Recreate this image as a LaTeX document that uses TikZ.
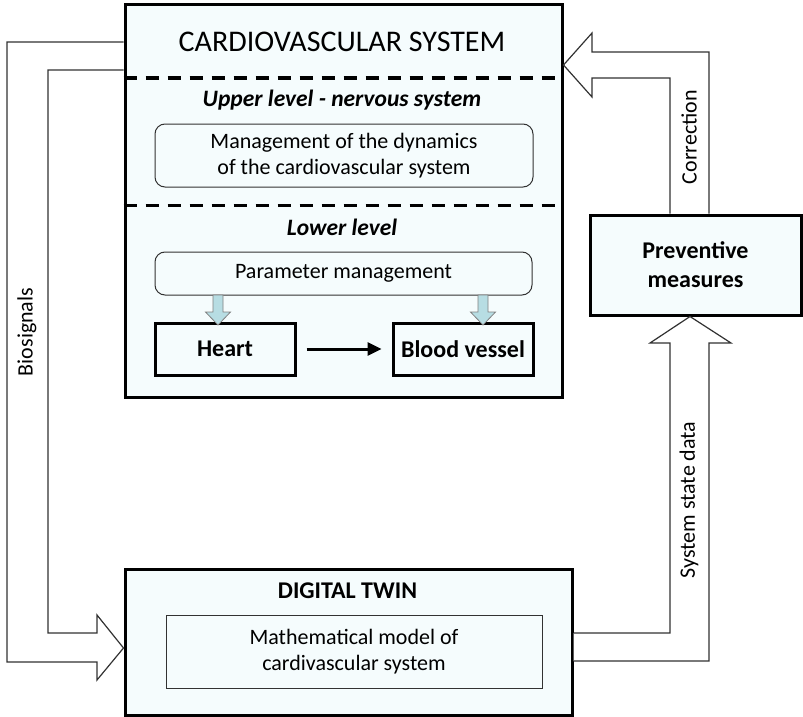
\documentclass[tikz,border=0pt]{standalone}
\usepackage{fontspec}
\setmainfont{Carlito}
\usetikzlibrary{arrows.meta}

\definecolor{boxfill}{RGB}{245,252,253}
\definecolor{tipfill}{RGB}{183,221,227}
\definecolor{linegray}{RGB}{50,50,50}

\newcommand\txtfont{\fontsize{22}{26}\selectfont}
\newcommand\lblfont{\fontsize{24}{29}\selectfont\bfseries}
\newcommand\lvlfont{\fontsize{23.5}{28}\selectfont\bfseries\itshape}
\newcommand\ttlfont{\fontsize{30}{34}\selectfont}

\begin{document}
\begin{tikzpicture}[x=1pt,y=-1pt,
  bigbox/.style={draw, line width=3pt, fill=boxfill, inner sep=0pt},
  partbox/.style={draw, line width=3pt, inner sep=0pt, align=center, font=\lblfont},
  roundbox/.style={draw=linegray, line width=1pt, rounded corners=10pt, inner sep=0pt, align=center, font=\txtfont},
  plainbox/.style={draw=linegray, line width=1pt, inner sep=0pt, align=center, font=\txtfont},
  divider/.style={line width=3pt, dash pattern=on 13pt off 9pt},
  hollow/.style={draw=linegray, line width=1.2pt, fill=white, line join=miter},
  tinyarrow/.style={draw=gray, line width=0.8pt, fill=tipfill},
  vlabel/.style={rotate=90, inner sep=0pt, font=\txtfont}]
\useasboundingbox (0,0) rectangle (803,717);

% main blocks
\node[bigbox, minimum width=437pt, minimum height=392pt] (cvs) at (343.5,201) {};
\node[bigbox, partbox, minimum width=211pt, minimum height=100pt] (prev) at (695.5,265) {Preventive\\measures};
\node[bigbox, minimum width=447pt, minimum height=146pt] (dt) at (348.5,642) {};

% cardiovascular system
\node[font=\ttlfont, inner sep=0pt, anchor=base] (cvstitle) at (342,52) {CARDIOVASCULAR SYSTEM};
\draw[divider] (cvs.west |- 0,78) -- (556,78);
\node[font=\lvlfont, inner sep=0pt, anchor=base] (upper) at (342,106) {Upper level - nervous system};
\node[roundbox, fill=boxfill, minimum width=378pt, minimum height=63pt] (mgmt) at (344,155.5) {Management of the dynamics\\of the cardiovascular system};
\draw[divider] (cvs.west |- 0,205) -- (556,205);
\node[font=\lvlfont, inner sep=0pt, anchor=base] (lower) at (342,235) {Lower level};
\node[roundbox, fill=boxfill, minimum width=377pt, minimum height=43pt] (param) at (343.5,273.5) {Parameter management};
\node[partbox, minimum width=140pt, minimum height=52pt] (heart) at (225,349) {Heart};
\node[partbox, minimum width=140pt, minimum height=52pt] (vessel) at (463,349) {Blood vessel};
\foreach \x in {218,483}
  \draw[tinyarrow] ({\x-5},295) -- ({\x-5},312) -- ({\x-12.5},312) -- (\x,325) -- ({\x+12.5},312) -- ({\x+5},312) -- ({\x+5},295) -- cycle;
\draw[line width=3pt, -{Triangle[length=14pt,width=13pt]}, shorten <=10pt, shorten >=10pt] (heart) -- (vessel);

% digital twin
\node[font=\lblfont, inner sep=0pt, anchor=base] (dttitle) at (347.5,598) {DIGITAL TWIN};
\node[plainbox, minimum width=376pt, minimum height=73pt] (model) at (354,651.5) {Mathematical model of\\cardivascular system};

% feedback arrows
\draw[hollow] (cvs.west |- 0,42) -- (7,42) -- (7,662) -- (97,662) -- (97,680) -- (dt.west |- 0,648)
  -- (97,615) -- (97,633) -- (48,633) -- (48,70) -- (cvs.west |- 0,70);
\draw[hollow] (prev.north -| 709,0) -- (709,52) -- (592,52) -- (592,33) -- (cvs.east |- 0,65)
  -- (592,97) -- (592,78) -- (670,78) -- (prev.north -| 670,0);
\draw[hollow] (dt.east |- 0,633) -- (670,633) -- (670,343) -- (650,343) -- (prev.south -| 690,0)
  -- (731,343) -- (709,343) -- (709,661) -- (dt.east |- 0,661);
\node[vlabel] (biolbl) at (27,332) {Biosignals};
\node[vlabel] (corrlbl) at (689,137) {Correction};
\node[vlabel] (statelbl) at (689,500) {System state data};
\end{tikzpicture}
\end{document}
